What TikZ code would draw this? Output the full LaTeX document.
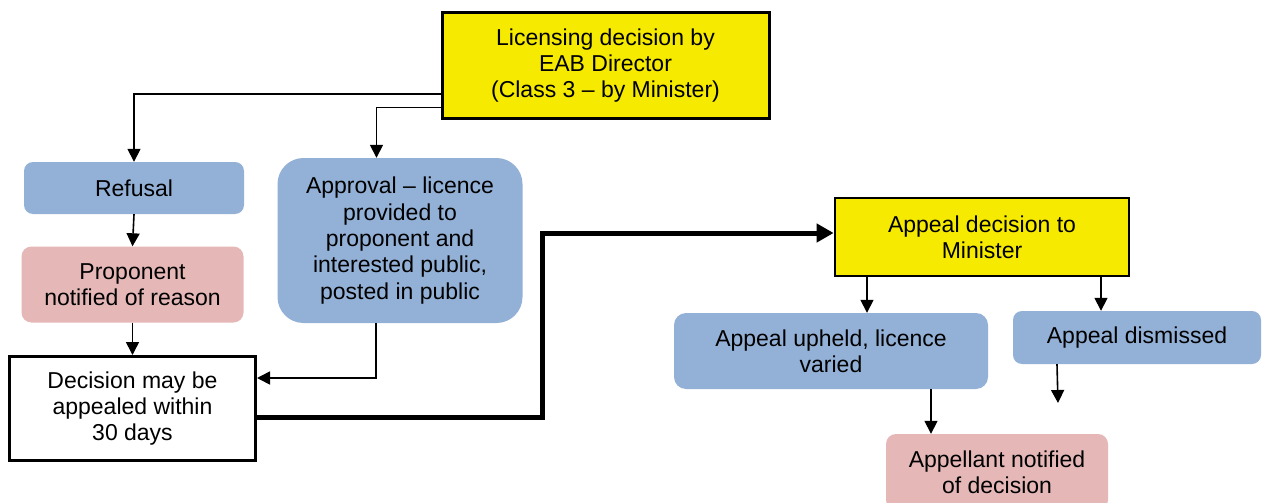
\documentclass[tikz,border=0pt]{standalone}
\usepackage{fontspec}
\setmainfont{Liberation Sans}
\usetikzlibrary{arrows.meta}
\definecolor{ylw}{RGB}{245,234,0}
\definecolor{blu}{RGB}{147,177,215}
\definecolor{pnk}{RGB}{229,184,183}
\tikzset{
  every node/.style={font=\fontsize{23}{26.3}\selectfont, align=center, inner sep=0pt},
  ybox/.style={draw=black, fill=ylw, line width=3pt},
  bbox/.style={fill=blu, rounded corners=#1},
  bbox/.default=9pt,
  pbox/.style={fill=pnk, rounded corners=10pt},
  wbox/.style={draw=black, fill=white, line width=3pt},
  arr/.style={line width=1.6pt, -{Triangle[length=13pt,width=13pt]}},
  thickarr/.style={line width=5pt, -{Triangle[length=17pt,width=18pt]}}
}
\begin{document}
\begin{tikzpicture}[x=1pt,y=-1pt]
\clip (0,0) rectangle (1262,503);
\fill[white] (0,0) rectangle (1262,503);
% nodes
\node[ybox, minimum width=327pt, minimum height=106pt] (top) at (605.5,65.5)
  {Licensing decision by\\EAB Director\\(Class 3 -- by Minister)};
\node[bbox, minimum width=220pt, minimum height=52pt] (refusal) at (134,188) {Refusal};
\node[pbox, minimum width=222pt, minimum height=76pt] (prop) at (132.5,284.5)
  {Proponent\\notified of reason};
\node[bbox=26pt, minimum width=245pt, minimum height=165pt] (appr) at (400,240.5)
  {Approval -- licence\\provided to\\proponent and\\interested public,\\posted in public};
\node[wbox, minimum width=246pt, minimum height=104pt] (dec) at (132.5,408.5)
  {Decision may be\\appealed within\\30 days};
\node[ybox, line width=2.7pt, minimum width=294pt, minimum height=78pt] (appeal) at (982,237)
  {Appeal decision to\\Minister};
\node[bbox=12pt, minimum width=314pt, minimum height=76pt] (upheld) at (831,351)
  {Appeal upheld, licence\\varied};
\node[bbox, minimum width=248pt, minimum height=53pt] (dism) at (1137,337.5)
  {\raisebox{2pt}{Appeal dismissed}};
\node[pbox, minimum width=222pt, minimum height=76pt] (appn) at (997,472)
  {Appellant notified\\of decision};
\coordinate (dismend) at (1058,403);
% connectors
\draw[arr] ([yshift=-28.8pt]top.west) -| (refusal.north);
\draw[arr] ([yshift=-42.2pt]top.west) -| ([xshift=-23.5pt]appr.north);
\draw[arr] (refusal.south) -- (prop.north);
\draw[arr] (prop.south) -- (dec.north);
\draw[arr] ([xshift=-24pt]appr.south) |- ([yshift=30.5pt]dec.east);
\draw[thickarr] ([yshift=-9pt]dec.east) -- ++(285,0) |- ([yshift=4pt]appeal.west);
\draw[arr] ([xshift=-115pt]appeal.south) -- ([xshift=-115pt]appeal.south |- upheld.north);
\draw[arr] ([xshift=119pt]appeal.south) -- ([xshift=119pt]appeal.south |- dism.north);
\draw[arr] ([xshift=100pt]upheld.south) -- ([xshift=100pt]upheld.south |- appn.north);
\draw[arr] ([xshift=-80pt]dism.south) -- (dismend);
\end{tikzpicture}
\end{document}
